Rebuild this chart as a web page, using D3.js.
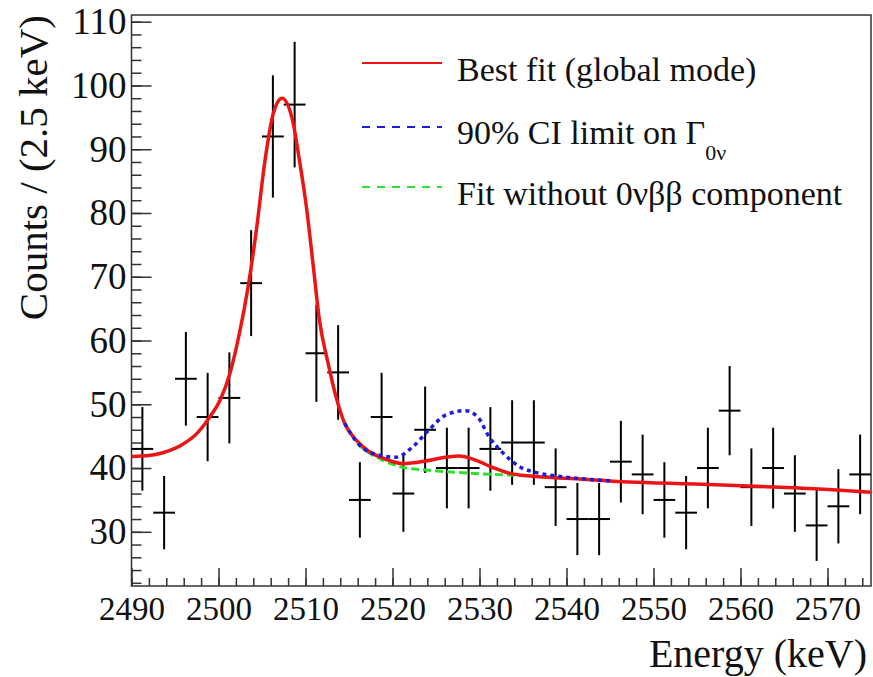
<!DOCTYPE html>
<html lang="en">
    <head>
        <meta charset="utf-8">
        <title>Energy spectrum with fits</title>
        <script type="text/javascript" src="https://cdn.jsdelivr.net/npm/d3@7"></script>
        <style type="text/css">
            body { margin: 0; background: #fff; }
            svg text { font-family: "Liberation Serif", "Times New Roman", Times, "Nimbus Roman", "DejaVu Serif", serif; fill: #111; }
        </style>
    </head>
    <body>
        <script type="text/javascript">
            //Canvas
            var w = 873;
            var h = 677;
            var serif = "'Liberation Serif', 'Times New Roman', Times, 'Nimbus Roman', 'DejaVu Serif', serif";

            //Bin centres (2.5 keV bins) and counts
            var energies = [2491.25, 2493.75, 2496.25, 2498.75, 2501.25, 2503.75, 2506.25, 2508.75,
                            2511.25, 2513.75, 2516.25, 2518.75, 2521.25, 2523.75, 2526.25, 2528.75,
                            2531.25, 2533.75, 2536.25, 2538.75, 2541.25, 2543.75, 2546.25, 2548.75,
                            2551.25, 2553.75, 2556.25, 2558.75, 2561.25, 2563.75, 2566.25, 2568.75,
                            2571.25, 2573.75];
            var counts = [43, 33, 54, 48, 51, 69, 92, 97,
                          58, 55, 35, 48, 36, 46, 40, 40,
                          43, 44, 44, 37, 32, 32, 41, 39,
                          35, 33, 40, 49, 37, 40, 36, 31,
                          34, 39];

            //Fit curves
            var bestFitE = [2490, 2492, 2493.6, 2495.6, 2497.5, 2499, 2500.2, 2501.3, 2502.4, 2503.4, 2504.4,
                            2505.3, 2506.3, 2507.3, 2508.5, 2509.3, 2510.1, 2510.9, 2511.6, 2512.6, 2513.5,
                            2514.5, 2515.8, 2517.3, 2519, 2521.2, 2523.8, 2526.1, 2527.7, 2529.6, 2531.5,
                            2533.4, 2536.1, 2540, 2547.2, 2554.8, 2562.5, 2570.1, 2575];
            var bestFitY = [41.8, 41.95, 42.4, 43.5, 45.4, 48.0, 50.7, 54.8, 61.1, 68.4, 77.8,
                            87.8, 95.6, 98.0, 94.6, 88.3, 81.0, 71.6, 63.2, 56.4, 51.2,
                            47.0, 44.4, 42.6, 41.5, 40.7, 41.1, 41.7, 41.9, 41.2, 40.1,
                            39.2, 38.7, 38.4, 37.8, 37.5, 37.1, 36.65, 36.2];

            var limitE = [2514.5, 2516.2, 2518.5, 2520.4, 2522.3, 2524.2, 2526.1, 2528.4, 2529.9, 2531.1,
                          2532.6, 2534.5, 2536.8, 2539.1, 2542, 2545];
            var limitY = [47.0, 43.6, 42.0, 41.7, 43.3, 46.0, 48.3, 49.0, 47.8, 44.9,
                          42.5, 40.3, 39.2, 38.7, 38.3, 38.0];

            var noSignalE = [2514.5, 2516.2, 2518.5, 2521.2, 2523.8, 2527.7, 2531.5, 2535.3, 2539.1];
            var noSignalY = [47.0, 43.6, 41.5, 40.1, 39.7, 39.3, 39.0, 38.8, 38.5];

            //Axis ticks
            var xMajor = [2490, 2500, 2510, 2520, 2530, 2540, 2550, 2560, 2570];
            var yMajor = [30, 40, 50, 60, 70, 80, 90, 100, 110];

            var svg = d3.select("body")
                        .append("svg")
                        .attr("width", w)
                        .attr("height", h);

            svg.append("rect").attr("width", w).attr("height", h).attr("fill", "#fff");

            //Scales
            var xScale = d3.scaleLinear()
                            .domain([2490, 2575])
                            .range([131.5, 871]);
            var yScale = d3.scaleLinear()
                            .domain([21.5, 111.05])
                            .range([586, 15]);

            var xMinor = d3.range(2490, 2575.01, 2);
            var yMinor = d3.range(22, 111, 2);

            //Minor ticks (no labels)
            svg.append("g")
                .attr("class", "axis")
                .attr("transform", "translate(0,586)")
                .call(d3.axisBottom(xScale).tickValues(xMinor).tickSize(-8).tickFormat(""));
            svg.append("g")
                .attr("class", "axis")
                .attr("transform", "translate(131.5,0)")
                .call(d3.axisLeft(yScale).tickValues(yMinor).tickSize(-10).tickFormat(""));

            //Major ticks with labels
            var xAxis = svg.append("g")
                .attr("class", "axis")
                .attr("transform", "translate(0,586)")
                .call(d3.axisBottom(xScale).tickValues(xMajor).tickSize(-18).tickPadding(10.5)
                        .tickFormat(d3.format("d")));
            xAxis.selectAll("text").attr("font-size", 33);

            var yAxis = svg.append("g")
                .attr("class", "axis")
                .attr("transform", "translate(131.5,0)")
                .call(d3.axisLeft(yScale).tickValues(yMajor).tickSize(-20).tickPadding(5)
                        .tickFormat(d3.format("d")));
            yAxis.selectAll("text").attr("font-size", 37);

            svg.selectAll(".axis").attr("font-family", serif);
            svg.selectAll(".axis .domain").remove();
            svg.selectAll(".axis line").attr("stroke", "#333").attr("stroke-width", 1.5);
            svg.selectAll(".axis text").attr("font-family", serif).attr("fill", "#111");

            //Frame
            svg.append("rect")
                .attr("x", 131.5).attr("y", 15)
                .attr("width", 871 - 131.5).attr("height", 586 - 15)
                .attr("fill", "none")
                .attr("stroke", "#333")
                .attr("stroke-width", 1.5);

            //Data points with Poisson errors (sqrt of counts) and half-bin widths
            var pts = svg.append("g").attr("stroke", "#000").attr("stroke-width", 2);
            pts.selectAll("line.v")
                .data(energies)
                .enter()
                .append("line")
                .attr("class", "v")
                .attr("x1", function(d) { return xScale(d); })
                .attr("x2", function(d) { return xScale(d); })
                .attr("y1", function(d, i) { return yScale(counts[i] - Math.sqrt(counts[i])); })
                .attr("y2", function(d, i) { return yScale(counts[i] + Math.sqrt(counts[i])); });
            pts.selectAll("line.hz")
                .data(energies)
                .enter()
                .append("line")
                .attr("class", "hz")
                .attr("x1", function(d) { return xScale(d - 1.25); })
                .attr("x2", function(d) { return xScale(d + 1.25); })
                .attr("y1", function(d, i) { return yScale(counts[i]); })
                .attr("y2", function(d, i) { return yScale(counts[i]); });

            //Curves
            var line = d3.line()
                        .x(function(d) { return xScale(d[0]); })
                        .y(function(d) { return yScale(d[1]); })
                        .curve(d3.curveMonotoneX);

            svg.append("path")
                .datum(d3.zip(noSignalE, noSignalY))
                .attr("d", line)
                .attr("fill", "none")
                .attr("stroke", "#2ee02e")
                .attr("stroke-width", 3)
                .attr("stroke-dasharray", "8,4");

            svg.append("path")
                .datum(d3.zip(bestFitE, bestFitY))
                .attr("d", line)
                .attr("fill", "none")
                .attr("stroke", "#ec1515")
                .attr("stroke-width", 3.5);

            svg.append("path")
                .datum(d3.zip(limitE, limitY))
                .attr("d", line)
                .attr("fill", "none")
                .attr("stroke", "#1c1ce0")
                .attr("stroke-width", 3.5)
                .attr("stroke-dasharray", "4,4");

            //Legend
            var legend = svg.append("g").attr("font-family", serif);
            legend.append("line")
                .attr("x1", 362).attr("x2", 442).attr("y1", 63).attr("y2", 63)
                .attr("stroke", "#ec1515").attr("stroke-width", 2);
            legend.append("line")
                .attr("x1", 362).attr("x2", 442).attr("y1", 127).attr("y2", 127)
                .attr("stroke", "#1c1ce0").attr("stroke-width", 2)
                .attr("stroke-dasharray", "8,7");
            legend.append("line")
                .attr("x1", 362).attr("x2", 442).attr("y1", 187).attr("y2", 187)
                .attr("stroke", "#2ee02e").attr("stroke-width", 2)
                .attr("stroke-dasharray", "8,7");

            legend.append("text")
                .attr("x", 457).attr("y", 81)
                .attr("font-size", 34)
                .text("Best fit (global mode)");
            var ci = legend.append("text")
                .attr("x", 457).attr("y", 144)
                .attr("font-size", 34);
            ci.append("tspan").text("90% CI limit on Γ");
            ci.append("tspan").attr("font-size", 22).attr("dy", 16).text("0ν");
            legend.append("text")
                .attr("x", 457).attr("y", 205)
                .attr("font-size", 34)
                .text("Fit without 0νββ component");

            //Axis titles
            svg.append("text")
                .attr("x", 867).attr("y", 667)
                .attr("text-anchor", "end")
                .attr("font-family", serif)
                .attr("font-size", 40)
                .text("Energy (keV)");
            svg.append("text")
                .attr("transform", "translate(47,15) rotate(-90)")
                .attr("text-anchor", "end")
                .attr("font-family", serif)
                .attr("font-size", 41)
                .text("Counts / (2.5 keV)");

        </script>
    </body>
</html>
